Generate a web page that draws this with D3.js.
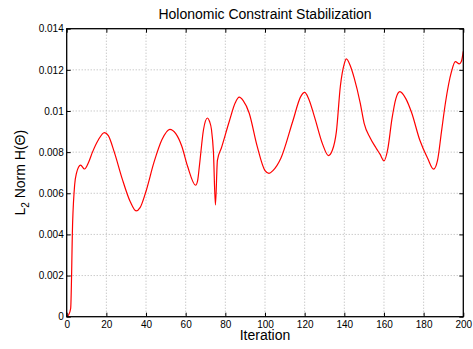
<!DOCTYPE html>
<html>
<head>
<meta charset="utf-8">
<script src="https://cdn.jsdelivr.net/npm/d3@7"></script>
<style>
  html, body { margin: 0; height: 100%; background: #fff; overflow: hidden; }
  svg { display: block; }
  text { font-family: "Liberation Sans", Arial, sans-serif; fill: #000; }
  .tick-label { font-size: 10px; }
  .grid line { stroke: #b4b4b4; stroke-width: 1; stroke-dasharray: 1,2; }
</style>
</head>
<body>
<script>
// iterations + L2 norm values
let iterations = [0, 1, 2, 3, 4, 5, 6, 7, 9, 11, 13, 16, 19, 21, 24, 28, 32, 35, 37, 40,
    44, 48, 52, 55, 58, 61, 65, 66, 67, 69, 71, 72, 73, 74, 75, 76, 78, 82, 85, 87,
    89, 92, 96, 100, 102, 104, 108, 114, 118, 120, 122, 125, 129, 132, 134, 136, 138, 140, 141, 143,
    145, 148, 150, 153, 156, 158, 160, 162, 164, 166, 168, 171, 174, 178, 182, 185, 187, 189, 191, 194,
    196, 198, 199, 200]
let normValues = [0, 0.0001, 0.0004, 0.0046, 0.0064, 0.0070, 0.00728, 0.00737, 0.00718, 0.0075, 0.0080, 0.0086, 0.00895, 0.0088, 0.0080, 0.0067, 0.0056, 0.00514, 0.0053, 0.0061,
    0.0075, 0.0086, 0.00911, 0.0089, 0.0083, 0.0073, 0.00639, 0.0066, 0.0074, 0.0091, 0.00966, 0.0095, 0.0091, 0.0080, 0.00543, 0.0076, 0.0082, 0.0095, 0.0104, 0.01067,
    0.0105, 0.0099, 0.0083, 0.0071, 0.00697, 0.0071, 0.0077, 0.0095, 0.0107, 0.0109, 0.0106, 0.0097, 0.0084, 0.00783, 0.0081, 0.0090, 0.0112, 0.0123, 0.01253, 0.0122,
    0.0116, 0.0104, 0.0094, 0.0087, 0.0082, 0.0079, 0.00758, 0.0082, 0.0096, 0.0106, 0.01094, 0.0106, 0.0099, 0.0086, 0.0077, 0.00717, 0.0076, 0.0090, 0.0104, 0.0119,
    0.0124, 0.01229, 0.0124, 0.0129]

let xTicks = [0, 20, 40, 60, 80, 100, 120, 140, 160, 180, 200]
let yTicks = [0, 0.002, 0.004, 0.006, 0.008, 0.01, 0.012, 0.014]
let yTickLabels = ['0', '0.002', '0.004', '0.006', '0.008', '0.01', '0.012', '0.014']

let svgWidth = 473
let svgHeight = 349

// viewBox so the whole figure always fits the window
let svg = d3.select('body').append('svg')
            .attr('viewBox', '0 0 ' + svgWidth + ' ' + svgHeight)
            .attr('width', '100%')
            .attr('height', '100%')

// plot box, matlab style
let margin = {top: 28.7, right: 9.7, bottom: 32.3, left: 66.7}
let innerWidth = svgWidth - margin.left - margin.right
let innerHeight = svgHeight - margin.top - margin.bottom

let inner = svg.append('g')
               .attr('transform', 'translate(' + margin.left + ',' + margin.top + ')')

let xScale = d3.scaleLinear().domain([0, 200]).range([0, innerWidth])
let yScale = d3.scaleLinear().domain([0, 0.014]).range([innerHeight, 0])

// dotted grid
let grid = inner.append('g').classed('grid', true)
grid.selectAll('.vgrid')
    .data(xTicks.slice(1, -1))
    .join('line')
    .attr('x1', d => xScale(d)).attr('x2', d => xScale(d))
    .attr('y1', 0).attr('y2', innerHeight)
grid.selectAll('.hgrid')
    .data(yTicks.slice(1, -1))
    .join('line')
    .attr('x1', 0).attr('x2', innerWidth)
    .attr('y1', d => yScale(d)).attr('y2', d => yScale(d))

// the curve
let points = iterations.map((it, i) => ({it: it, v: normValues[i]}))
let line = d3.line()
             .x(d => xScale(d.it))
             .y(d => yScale(d.v))
             .curve(d3.curveMonotoneX)

inner.append('path')
     .datum(points)
     .attr('d', line)
     .attr('fill', 'none')
     .attr('stroke', '#ff0000')
     .attr('stroke-width', 1.2)

// axes: ticks point inward, on all four sides
let tickLen = 4
let xAxisBottom = d3.axisBottom(xScale).tickValues(xTicks).tickSizeInner(-tickLen).tickSizeOuter(0).tickPadding(4)
let xAxisTop = d3.axisTop(xScale).tickValues(xTicks).tickSizeInner(-tickLen).tickSizeOuter(0).tickFormat('')
let yAxisLeft = d3.axisLeft(yScale).tickValues(yTicks).tickSizeInner(-tickLen).tickSizeOuter(0).tickPadding(3)
                  .tickFormat((d, i) => yTickLabels[i])
let yAxisRight = d3.axisRight(yScale).tickValues(yTicks).tickSizeInner(-tickLen).tickSizeOuter(0).tickFormat('')

let axes = [
    inner.append('g').attr('transform', 'translate(0,' + innerHeight + ')').call(xAxisBottom),
    inner.append('g').call(xAxisTop),
    inner.append('g').call(yAxisLeft),
    inner.append('g').attr('transform', 'translate(' + innerWidth + ',0)').call(yAxisRight)
]
axes.forEach(a => {
    a.select('.domain').remove()
    a.selectAll('.tick line').attr('stroke', '#000').attr('stroke-width', 1)
    a.selectAll('.tick text').classed('tick-label', true).attr('font-size', null).attr('font-family', null)
})

// box outline
inner.append('rect')
     .attr('width', innerWidth)
     .attr('height', innerHeight)
     .attr('fill', 'none')
     .attr('stroke', '#000')
     .attr('stroke-width', 1.3)

// titles
svg.append('text')
   .attr('x', margin.left + innerWidth / 2)
   .attr('y', 18.5)
   .attr('text-anchor', 'middle')
   .style('font-size', '14px')
   .text('Holonomic Constraint Stabilization')

svg.append('text')
   .attr('x', margin.left + innerWidth / 2)
   .attr('y', 340)
   .attr('text-anchor', 'middle')
   .style('font-size', '14px')
   .text('Iteration')

let yLabel = svg.append('text')
   .attr('transform', 'translate(25,' + (margin.top + innerHeight / 2) + ') rotate(-90)')
   .attr('text-anchor', 'middle')
   .style('font-size', '14px')
yLabel.append('tspan').text('L')
yLabel.append('tspan').attr('dy', 4).style('font-size', '10px').text('2')
yLabel.append('tspan').attr('dy', -4).text(' Norm H(Θ)')
</script>
</body>
</html>
